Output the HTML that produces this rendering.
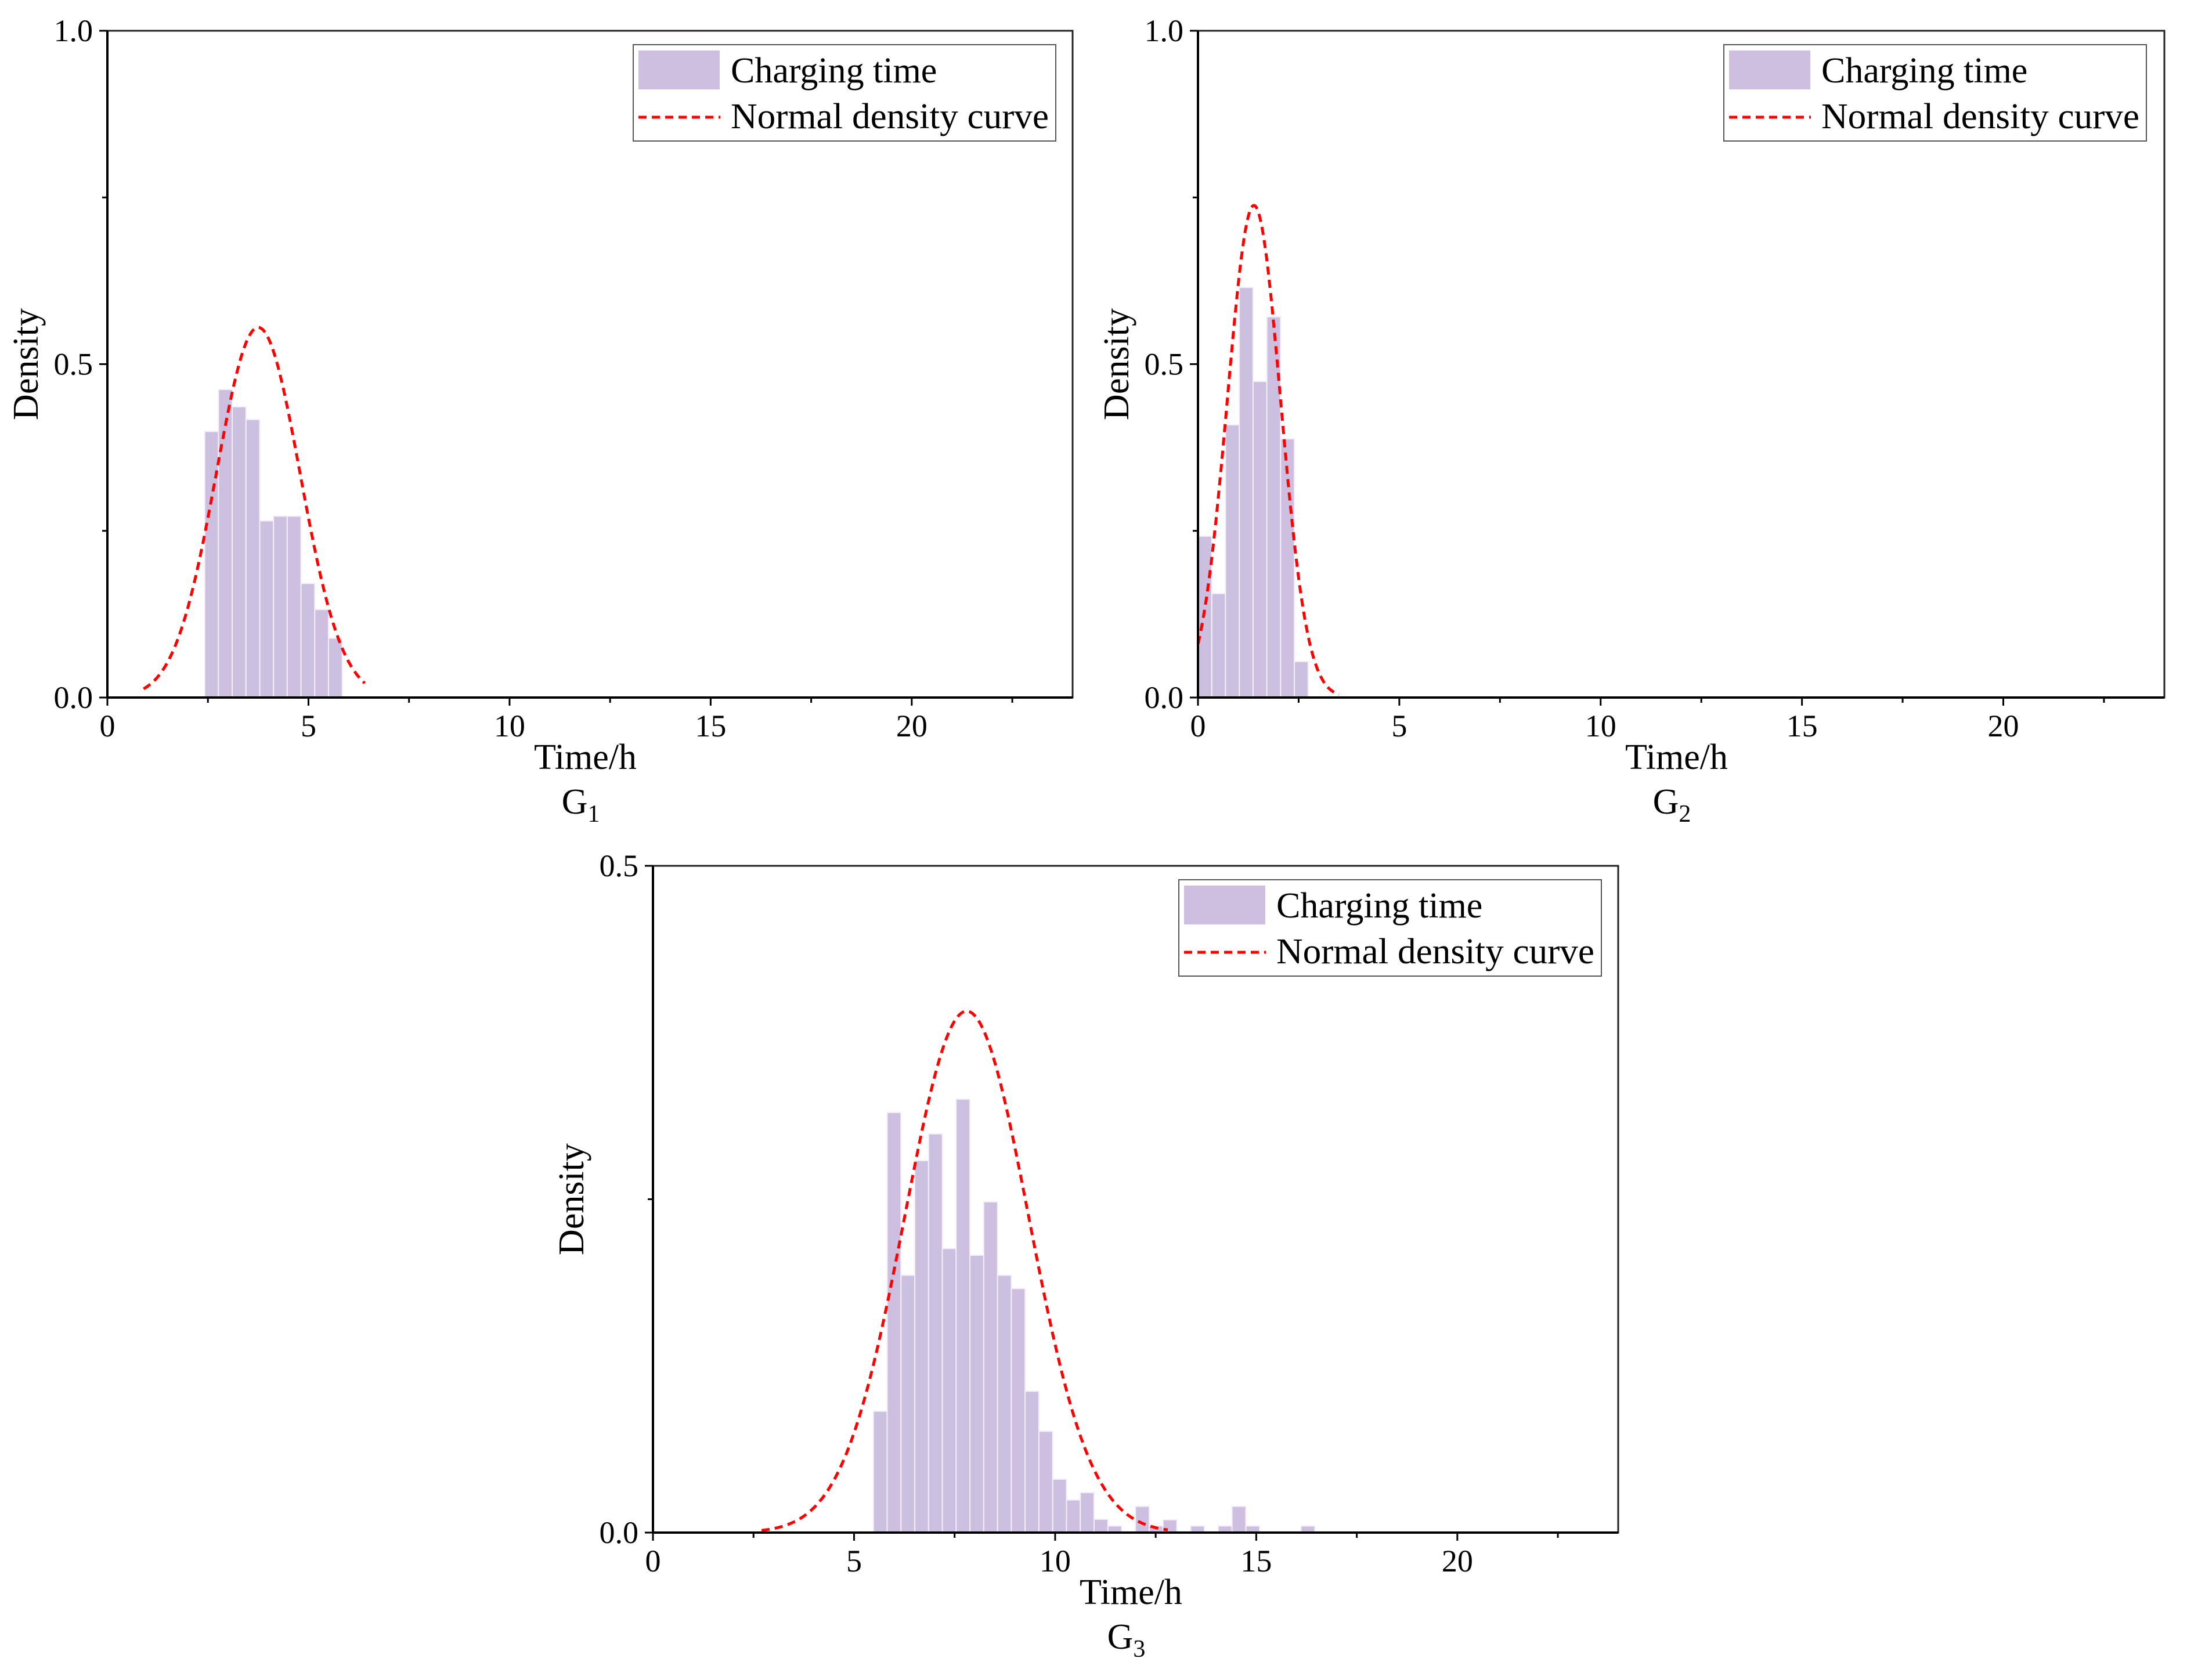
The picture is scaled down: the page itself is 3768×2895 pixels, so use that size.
<!DOCTYPE html>
<html><head><meta charset="utf-8"><style>
html,body{margin:0;padding:0;background:#fff;}
svg{display:block;font-family:"Liberation Serif",serif;}
</style></head><body>
<svg id="fig" width="3768" height="2895" viewBox="0 0 3768 2895" xmlns="http://www.w3.org/2000/svg"></svg>
<script>
// ---- data ----
const g1Start = 2.42, g1Width = 0.342;
const g1Values = [0.399,0.462,0.436,0.417,0.265,0.272,0.272,0.171,0.132,0.089];
const g1Curve = [3.75, 1.04, 0.555]; // mean, sd, peak
const g1Range = [0.9, 6.4];
const g2Start = 0, g2Width = 0.342;
const g2Values = [0.242,0.156,0.409,0.615,0.474,0.571,0.388,0.054];
const g2Curve = [1.39, 0.66, 0.738];
const g2Range = [0, 3.5];
const g3Start = 5.48, g3Width = 0.343;
const g3Values = [0.091,0.315,0.193,0.279,0.299,0.213,0.325,0.208,0.248,0.193,0.183,0.106,0.076,0.040,0.0245,0.030,0.010,0.005,0,0.0197,0.005,0.0096,0,0.005,0,0.005,0.0197,0.005,0,0,0,0.005];
const g3Curve = [7.8, 1.54, 0.391];
const g3Range = [2.7, 12.8];
const xTicks = [0,5,10,15,20];
const yTicks1 = ["0.0","0.5","1.0"];
const yTicks3 = ["0.0","0.5"];

const NS="http://www.w3.org/2000/svg";
const svg=document.getElementById('fig');
function mk(tag,attrs,parent){const e=document.createElementNS(NS,tag);for(const k in attrs)e.setAttribute(k,attrs[k]);(parent||svg).appendChild(e);return e;}

function panel(cfg){
  const {L,R,T,B,ymax,start,width,values,curve,range,name,sub,yLabels}=cfg;
  const g=mk('g',{});
  
  
  const xs=v=>L+(v/24)*(R-L);
  const ys=v=>B-(v/ymax)*(B-T);
  values.forEach((v,i)=>{
    if(v<=0)return;
    const x0=xs(start+i*width), x1=xs(start+(i+1)*width);
    const r=mk('rect',{x:x0,y:ys(v),width:x1-x0,height:B-ys(v),fill:'#cdbfe0',stroke:'#f3eef9','stroke-width':2},g);
    
    
  });
  const [mean,sd,amp]=curve;
  let d='';
  for(let k=0;k<=300;k++){
    const x=range[0]+(range[1]-range[0])*k/300;
    const y=amp*Math.exp(-0.5*((x-mean)/sd)**2);
    d+=(d?'L':'M')+xs(x).toFixed(1)+','+ys(y).toFixed(1);
  }
  const c=mk('path',{d:d,fill:'none',stroke:'#ff0000','stroke-width':5,'stroke-dasharray':'14 9'},g);
  
  
  const f=mk('rect',{x:L,y:T,width:R-L,height:B-T,fill:'none',stroke:'#222','stroke-width':3},g);
  
  
  mk('line',{x1:L,y1:B,x2:R,y2:B,stroke:'#000','stroke-width':4},g);
  mk('line',{x1:L,y1:T,x2:L,y2:B,stroke:'#000','stroke-width':4},g);
  for(let v=0;v<=22.5;v+=2.5){
    const major=v%5===0;
    mk('line',{x1:xs(v),y1:B,x2:xs(v),y2:B+(major?14:9),stroke:'#000','stroke-width':3},g);
  }
  xTicks.forEach(v=>{
    const t=mk('text',{x:xs(v),y:B+67,'font-size':54,'text-anchor':'middle',fill:'#000'},g);
    t.textContent=v;
    
    
  });
  const n=yLabels.length-1;
  for(let k=0;k<=2*n;k++){
    const y=B-(B-T)*k/(2*n);
    mk('line',{x1:L,y1:y,x2:L-(k%2===0?14:9),y2:y,stroke:'#000','stroke-width':3},g);
  }
  yLabels.forEach((s,k)=>{
    const t=mk('text',{x:L-25,y:B-(B-T)*k/n+18,'font-size':54,'text-anchor':'end',fill:'#000'},g);
    t.textContent=s;
    
    
  });
  const xt=mk('text',{x:(L+R)/2-8,y:B+123,'font-size':62,'text-anchor':'middle',fill:'#000'},g);
  xt.textContent='Time/h';
  
  
  const yt=mk('text',{x:0,y:0,'font-size':62,'text-anchor':'middle',fill:'#000',transform:`translate(${L-120},${(T+B)/2}) rotate(-90)`},g);
  yt.textContent='Density';
  
  
  const st=mk('text',{x:(L+R)/2-16,y:B+200,'font-size':62,'text-anchor':'middle',fill:'#000'},g);
  st.innerHTML='G<tspan font-size="42" dy="14">'+sub+'</tspan>';
  
  
  const lx=L+906, ly=T+24;
  const lg=mk('g',{},g);
  
  
  mk('rect',{x:lx,y:ly,width:728,height:166,fill:'#fff',stroke:'#555','stroke-width':2},lg);
  mk('rect',{x:lx+9,y:ly+10,width:140,height:67,fill:'#cdbfe0'},lg);
  mk('line',{x1:lx+9,y1:ly+125,x2:lx+150,y2:ly+125,stroke:'#ff0000','stroke-width':5,'stroke-dasharray':'14 9'},lg);
  const t1=mk('text',{x:lx+168,y:ly+65,'font-size':62,fill:'#000'},lg);
  t1.textContent='Charging time';
  const t2=mk('text',{x:lx+168,y:ly+144,'font-size':62,fill:'#000',textLength:548,lengthAdjust:'spacingAndGlyphs'},lg);
  t2.textContent='Normal density curve';
}
panel({L:185,R:1848,T:53,B:1202,ymax:1.0,start:g1Start,width:g1Width,values:g1Values,curve:g1Curve,range:g1Range,name:'g1',sub:'1',yLabels:yTicks1});
panel({L:2064,R:3729,T:53,B:1202,ymax:1.0,start:g2Start,width:g2Width,values:g2Values,curve:g2Curve,range:g2Range,name:'g2',sub:'2',yLabels:yTicks1});
panel({L:1125,R:2788,T:1492,B:2641,ymax:0.5,start:g3Start,width:g3Width,values:g3Values,curve:g3Curve,range:g3Range,name:'g3',sub:'3',yLabels:yTicks3});
</script>
</body></html>
